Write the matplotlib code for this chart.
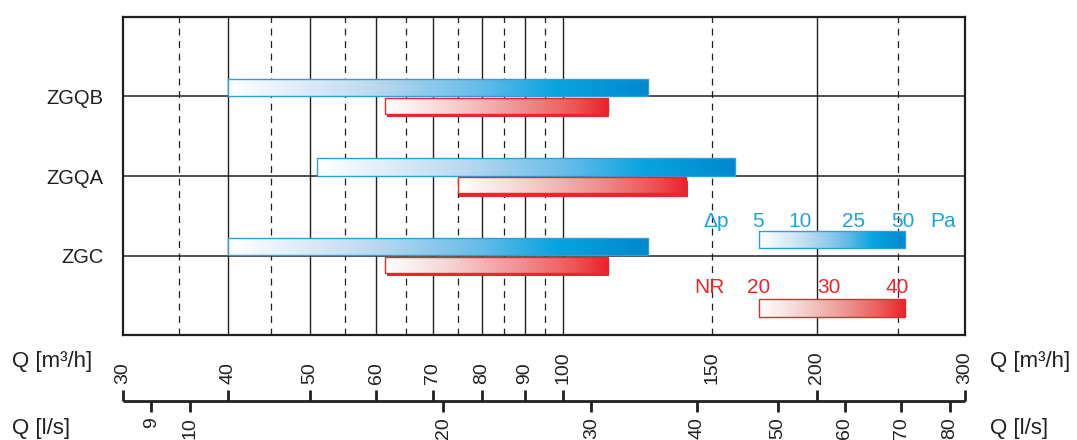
import numpy as np
import matplotlib
matplotlib.use("Agg")
import matplotlib.pyplot as plt
from matplotlib.colors import LinearSegmentedColormap
from matplotlib.patches import Rectangle
from matplotlib.transforms import offset_copy

plt.rcParams['font.family'] = ['Liberation Sans', 'DejaVu Sans']

# ---------------- data ----------------
categories = ['ZGQB', 'ZGQA', 'ZGC']
dp_start = [40, 51, 40]        # m3/h, pressure-drop range start
dp_end = [126, 160, 126]       # m3/h, pressure-drop range end
nr_start = [61.5, 75, 61.5]    # m3/h, noise range start
nr_end = [113, 140, 113]       # m3/h, noise range end

q_labels = [30, 40, 50, 60, 70, 80, 90, 100, 150, 200, 300]
q_marks = [30, 40, 50, 60, 70, 80, 90, 100, 200, 300]
ls_labels = [9, 10, 20, 30, 40, 50, 60, 70, 80]
M3H_PER_LS = 3.6
solid_grid = [40, 50, 60, 70, 80, 90, 100, 200]
dashed_grid = [35, 45, 55, 65, 75, 85, 95, 150, 250]

dp_legend = ['5', '10', '25', '50']
nr_legend = ['20', '30', '40']

# ---------------- style ----------------
W, H = 1077, 440
DARK = '#231f20'
BLUE_T = '#1ea2dc'
RED_T = '#e8262b'
BLUE_E = '#2f9fdb'

blue_cmap = LinearSegmentedColormap.from_list('b', [
    (0.0, '#ffffff'), (0.35, '#b9d8ef'), (0.6, '#66bbe8'),
    (0.78, '#08a4df'), (1.0, '#0088cf')])
red_cmap = LinearSegmentedColormap.from_list('r', [
    (0.0, '#ffffff'), (0.3, '#f5d0d0'), (0.6, '#ee9292'),
    (0.85, '#eb5656'), (1.0, '#e8242a')])


def px_rect(l, t, r, b):
    return [l / W, 1 - b / H, (r - l) / W, (b - t) / H]


fig = plt.figure(figsize=(W / 100, H / 100), dpi=100)
ax = fig.add_axes(px_rect(123, 17, 965, 335))
ax.set_xscale('log')
ax.set_xlim(30, 300)
ax.set_ylim(0, 4)
cat_y = [3, 2, 1]

for v in solid_grid:
    ax.axvline(v, color=DARK, lw=1.0, zorder=1)
for v in dashed_grid:
    ax.axvline(v, color=DARK, lw=0.9, dashes=(5.5, 4.5), zorder=1)
for y in cat_y:
    ax.axhline(y, color=DARK, lw=1.1, zorder=1)


def grad_bar(x0, x1, y0, y1, cmap, edge, z, transform=None, geo=True):
    n = 256
    xs = np.geomspace(x0, x1, n + 1) if geo else np.linspace(x0, x1, n + 1)
    kw = {} if transform is None else {'transform': transform}
    ax.pcolormesh(xs, [y0, y1], np.linspace(0, 1, n)[None, :], cmap=cmap,
                  shading='flat', zorder=z, **kw)
    ax.add_patch(Rectangle((x0, y0), x1 - x0, y1 - y0, fill=False, ec=edge,
                           lw=1.0, zorder=z + 0.1, **kw))


shadow_tr = offset_copy(ax.transData, fig=fig, x=1.2, y=-3.5, units='dots')
for y, a, b, c, d in zip(cat_y, dp_start, dp_end, nr_start, nr_end):
    grad_bar(a, b, y + 0.005, y + 0.225, blue_cmap, BLUE_E, 3)
    ax.add_patch(Rectangle((c, y - 0.218), d - c, 0.205, fc=RED_T, ec='none',
                           transform=shadow_tr, zorder=3.5))
    grad_bar(c, d, y - 0.218, y - 0.013, red_cmap, RED_T, 4)

ax.set_yticks(cat_y)
ax.set_yticklabels(categories, fontsize=14.5, color=DARK)
ax.tick_params(axis='y', length=0, pad=14)
ax.set_xticks([])
ax.set_xticks([], minor=True)
for s in ax.spines.values():
    s.set_linewidth(1.6)
    s.set_color(DARK)

# legend (axes coordinates)
def axx(px):
    return (px - 123) / 842


def axy(py):
    return (335 - py) / 318


grad_bar(axx(759), axx(905), axy(248), axy(231), blue_cmap, BLUE_E, 5,
         transform=ax.transAxes, geo=False)
grad_bar(axx(758.5), axx(905), axy(316.7), axy(299), red_cmap, RED_T, 5,
         transform=ax.transAxes, geo=False)
for txt, px in zip(['Δp'] + dp_legend + ['Pa'], [716, 758, 800, 854, 902.5, 943]):
    ax.text(axx(px), axy(226.7), txt, transform=ax.transAxes, ha='center',
            va='baseline', fontsize=15, color=BLUE_T, zorder=6)
for txt, px in zip(['NR'] + nr_legend, [709, 759, 829, 897]):
    ax.text(axx(px), axy(293.3), txt, transform=ax.transAxes, ha='center',
            va='baseline', fontsize=15, color=RED_T, zorder=6)

# bottom scales
ax2 = fig.add_axes(px_rect(123, 335, 965, 440))
ax2.set_xscale('log')
ax2.set_xlim(30, 300)
ax2.set_ylim(440, 335)
ax2.axis('off')
ax2.plot([30, 300], [400.7, 400.7], color=DARK, lw=2.0,
         solid_capstyle='butt', clip_on=False)
ax2.vlines(q_marks, 390, 400.7, color=DARK, lw=2.0, clip_on=False)
ls_m3h = np.array(ls_labels) * M3H_PER_LS
ax2.vlines(ls_m3h, 400.7, 412, color=DARK, lw=2.0, clip_on=False)
for v in q_labels:
    ax2.text(v, 383.5, str(v), rotation=90, ha='center', va='bottom',
             fontsize=14, color=DARK, clip_on=False)
for v, xv in zip(ls_labels, ls_m3h):
    ax2.text(xv, 417.5, str(v), rotation=90, ha='center', va='top',
             fontsize=14, color=DARK, clip_on=False)

for x, ha in [(12, 'left'), (990, 'left')]:
    fig.text(x / W, 1 - 361 / H, 'Q [m³/h]', ha=ha, va='center',
             fontsize=16, color=DARK)
    fig.text(x / W, 1 - 428 / H, 'Q [l/s]', ha=ha, va='center',
             fontsize=16, color=DARK)

fig.savefig('out.png', dpi=100)
